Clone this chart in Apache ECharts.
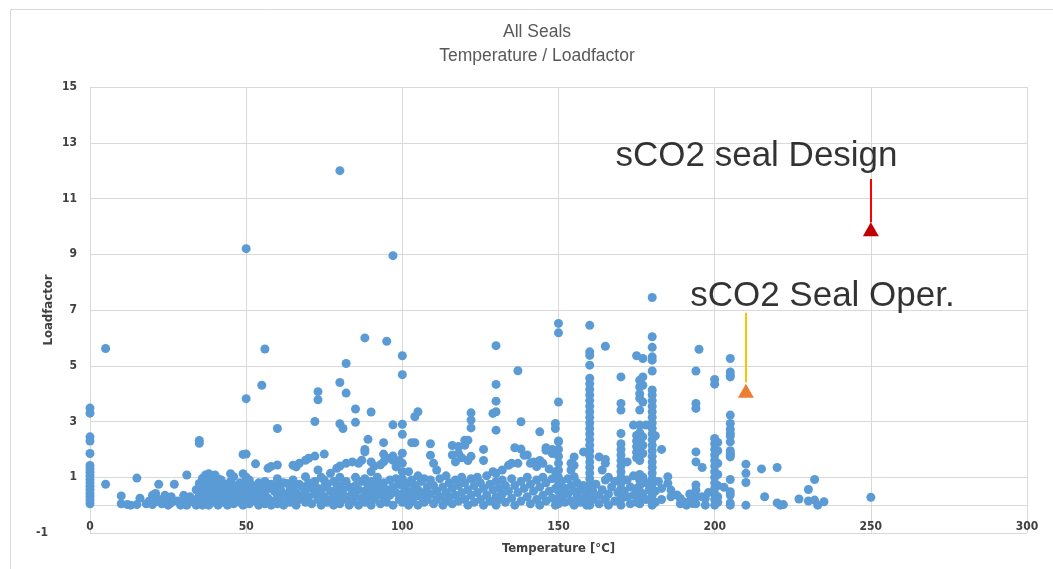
<!DOCTYPE html>
<html>
<head>
<meta charset="utf-8">
<title>All Seals - Temperature / Loadfactor</title>
<script src="https://cdn.jsdelivr.net/npm/echarts@6/dist/echarts.min.js"></script>
<style>
  html, body { margin: 0; padding: 0; background: #fff; }
  #chart { width: 1053px; height: 569px; }
</style>
</head>
<body>
<div id="chart"></div>
<script>
// seal readings, grouped by temperature: [temperature °C, [loadfactor values]]
var sealColumns = [
  [0, [3.48, 3.3, 2.45, 2.3, 1.85, 1.42, 1.3, 1.18, 1.05, 0.92, 0.8, 0.68, 0.55, 0.42, 0.3, 0.18, 0.05]],
  [5, [5.62, 0.75]],
  [10, [0.33, 0.05]], [12, [0.02]], [13, [0.0]], [15, [0.97, 0.02]], [16, [0.25]], [18, [0.05]], [19, [0.15]],
  [20, [0.35, 0.02]], [21, [0.42, 0.12]], [22, [0.75, 0.2]], [23, [0.05]], [24, [0.35, 0.15]], [25, [0.0]],
  [26, [0.3, 0.08]], [27, [0.75]], [28, [0.15]], [29, [0.0]], [30, [0.35, 0.1]], [31, [1.08, 0.25, 0.0]],
  [32, [0.3]], [33, [0.12]], [34, [0.55, 0.2, 0.0]], [35, [2.32, 2.22, 0.78, 0.4, 0.1]], [36, [0.96, 0.6, 0.25, 0.0]],
  [37, [1.08, 0.8, 0.45, 0.15]], [38, [1.13, 0.9, 0.6, 0.3, 0.0]], [39, [1.05, 0.7, 0.4, 0.1]], [40, [1.08, 0.75, 0.5, 0.2]],
  [41, [0.95, 0.6, 0.3, 0.0]], [42, [0.9, 0.65, 0.35, 0.1]], [43, [0.5, 0.2]], [44, [0.75, 0.45, 0.0]],
  [45, [1.13, 0.85, 0.55, 0.25]], [46, [1.02, 0.7, 0.35, 0.05]], [47, [0.5, 0.2]], [48, [0.8, 0.55, 0.1]],
  [49, [1.82, 1.13, 0.7, 0.35, 0.0]], [50, [9.2, 3.82, 1.83, 1.0, 0.8, 0.58, 0.35, 0.15]], [51, [0.9, 0.5, 0.05]],
  [52, [0.7, 0.3]], [53, [1.48, 0.55, 0.15]], [54, [0.8, 0.35, 0.0]], [55, [4.3, 0.65, 0.2]], [56, [5.6, 0.85, 0.45, 0.05]],
  [57, [1.32, 0.6, 0.25]], [58, [1.39, 0.75, 0.0]], [59, [0.5, 0.15]], [60, [2.75, 1.44, 0.95, 0.7, 0.35, 0.05]],
  [61, [0.55, 0.2]], [62, [0.8, 0.4, 0.0]], [63, [0.78, 0.3]], [64, [0.55, 0.1]], [65, [1.43, 0.9, 0.65, 0.3]],
  [66, [1.37, 0.45, 0.0]], [67, [1.5, 0.75, 0.2]], [68, [0.66, 0.35]], [69, [1.61, 1.02, 0.55, 0.1]], [70, [1.68, 0.8, 0.3]],
  [71, [0.6, 0.05]], [72, [3.0, 1.76, 0.85, 0.4]], [73, [4.07, 3.78, 1.26, 0.6, 0.2]], [74, [1.0, 0.45, 0.0]],
  [75, [1.83, 0.9, 0.65, 0.3]], [76, [0.75, 0.1]], [77, [1.14, 0.5, 0.2]], [78, [0.85, 0.35, 0.0]], [79, [1.32, 0.6, 0.15]],
  [80, [12.0, 4.4, 2.92, 1.4, 1.0, 0.7, 0.4, 0.05]], [81, [2.75, 0.55, 0.2]], [82, [5.08, 4.02, 1.5, 0.85, 0.3]],
  [83, [0.65, 0.0]], [84, [1.55, 0.45, 0.15]], [85, [3.45, 2.97, 1.0, 0.7, 0.3]], [86, [1.5, 0.55, 0.0]],
  [87, [1.61, 0.85, 0.25]], [88, [6.0, 2.0, 1.91, 0.95, 0.5, 0.1]], [89, [2.36, 0.7, 0.3]],
  [90, [3.34, 1.55, 1.2, 0.85, 0.45, 0.0]], [91, [1.4, 0.6, 0.2]], [92, [1.0, 0.75, 0.35]], [93, [1.45, 0.55, 0.05]],
  [94, [2.24, 1.83, 1.55, 0.8, 0.3]], [95, [5.88, 0.55, 0.1]], [96, [1.68, 0.9, 0.35]], [97, [8.95, 2.88, 1.76, 1.61, 0.65, 0.0]],
  [98, [1.37, 0.95, 0.45]], [99, [1.6, 0.75, 0.2]], [100, [5.36, 4.68, 2.9, 2.54, 1.86, 1.5, 1.2, 0.95, 0.7, 0.4, 0.1]],
  [101, [0.55, 0.2]], [102, [1.2, 0.8, 0.35, 0.0]], [103, [2.24, 0.9, 0.5, 0.15]], [104, [3.17, 2.24, 0.7, 0.3]],
  [105, [3.35, 1.05, 0.55, 0.0]], [106, [0.85, 0.3]], [107, [0.95, 0.45, 0.1]], [108, [0.65, 0.2]],
  [109, [2.2, 1.79, 0.9, 0.4]], [110, [1.5, 0.7, 0.05]], [111, [1.26, 0.5, 0.2]], [112, [0.95, 0.3]], [113, [0.65, 0.0]],
  [114, [1.05, 0.45, 0.15]], [115, [0.8, 0.3]], [116, [2.14, 1.8, 0.6, 0.05]], [117, [1.55, 0.9, 0.35]],
  [118, [2.1, 1.85, 0.7, 0.15]], [119, [1.7, 1.0, 0.45]], [120, [2.33, 2.15, 0.8, 0.2]], [121, [2.33, 1.6, 0.55, 0.0]],
  [122, [3.31, 3.05, 2.77, 1.75, 0.95, 0.35]], [123, [0.7, 0.1]], [124, [1.0, 0.45]], [125, [0.8, 0.2]],
  [126, [2.0, 1.6, 0.6, 0.0]], [127, [1.05, 0.35]], [128, [0.75, 0.15]], [129, [3.29, 1.2, 0.55]],
  [130, [5.72, 4.33, 3.73, 3.35, 2.69, 1.14, 0.85, 0.3, 0.0]], [131, [0.6, 0.2]], [132, [1.26, 0.9, 0.4]], [133, [0.7, 0.1]],
  [134, [1.43, 0.5]], [135, [1.5, 0.95, 0.25]], [136, [2.06, 0.7, 0.0]], [137, [4.82, 1.5, 0.45]], [138, [2.99, 2.01, 0.85, 0.15]],
  [139, [1.79, 0.6]], [140, [1.8, 1.0, 0.3]], [141, [1.5, 0.75, 0.05]], [142, [1.55, 0.5]], [143, [1.38, 0.9, 0.2]],
  [144, [2.63, 1.6, 0.65, 0.0]], [145, [1.5, 1.0, 0.35]], [146, [2.06, 1.97, 0.8, 0.15]], [147, [1.3, 0.5]],
  [148, [2.0, 1.85, 0.95, 0.25]], [149, [2.93, 2.75, 1.2, 0.6, 0.0]],
  [150, [6.52, 6.18, 3.7, 2.3, 2.27, 2.0, 1.75, 1.5, 1.25, 1.0, 0.75, 0.5, 0.25, 0.05]],
  [151, [0.85, 0.35]], [152, [0.6, 0.1]], [153, [0.95, 0.4]], [154, [1.5, 1.26, 0.7, 0.15]], [155, [1.73, 1.43, 1.02, 0.5, 0.0]],
  [156, [0.8, 0.3]], [157, [0.55, 0.1]], [158, [1.91, 0.7, 0.25]], [159, [0.4, 0.0]],
  [160, [6.45, 5.5, 5.37, 5.02, 4.55, 4.35, 4.15, 3.95, 3.75, 3.55, 3.35, 3.15, 2.95, 2.75, 2.55, 2.35, 2.15, 1.95, 1.75, 1.55, 1.35, 1.15, 0.95, 0.75, 0.55, 0.35, 0.15, 0.0]],
  [161, [0.5, 0.2]], [162, [0.75]], [163, [1.73, 0.35, 0.05]], [164, [1.26, 0.55]], [165, [5.7, 1.64, 1.5, 0.9, 0.2]],
  [166, [1.0, 0.4, 0.0]], [167, [0.65]], [168, [0.85, 0.15]], [169, [0.45]],
  [170, [4.6, 3.65, 3.41, 2.57, 2.2, 2.0, 1.8, 1.6, 1.4, 1.2, 1.0, 0.8, 0.6, 0.4, 0.2, 0.0]],
  [171, [0.5]], [172, [1.55, 0.9, 0.3]], [173, [0.65, 0.05]], [174, [2.87, 1.05, 0.35]], [175, [5.36, 2.5, 2.3, 2.1, 1.9, 1.7, 0.6, 0.1]],
  [176, [4.48, 4.24, 4.0, 3.83, 3.41, 2.87, 2.6, 2.4, 2.2, 2.0, 1.8, 1.6, 1.1, 0.9, 0.7, 0.5, 0.3, 0.05]],
  [177, [5.26, 4.6, 4.3, 3.7, 2.45, 2.15, 1.85, 1.0, 0.4]], [178, [2.87, 0.8, 0.2]], [179, [0.55]],
  [180, [7.45, 6.04, 5.66, 5.32, 5.2, 4.81, 4.13, 3.95, 3.75, 3.55, 3.35, 3.15, 2.95, 2.75, 2.55, 2.35, 2.15, 1.95, 1.75, 1.55, 1.35, 1.15, 0.95, 0.75, 0.55, 0.35, 0.15, 0.0]],
  [181, [2.49, 0.5, 0.1]], [182, [0.85]], [183, [2.0, 0.6, 0.2]], [185, [1.02, 0.78]], [186, [0.54, 0.3]],
  [188, [0.36]], [189, [0.24, 0.05]], [190, [0.12]], [191, [0.0]], [192, [0.4, 0.12]], [193, [0.06]],
  [194, [4.81, 3.65, 3.47, 1.91, 1.55, 0.72, 0.54, 0.3, 0.05]], [195, [5.59]], [196, [1.35, 0.3]], [197, [0.24, 0.0]], [198, [0.45]],
  [200, [4.51, 4.34, 2.39, 2.2, 2.0, 1.8, 1.6, 1.4, 1.2, 1.0, 0.8, 0.6, 0.4, 0.2, 0.0]],
  [201, [2.25, 1.95, 1.5, 1.1, 0.7, 0.3, 0.1]], [203, [0.64]],
  [205, [5.26, 4.78, 4.66, 4.6, 3.23, 2.93, 2.72, 2.57, 2.48, 2.27, 1.95, 1.85, 1.79, 1.73, 0.92, 0.48, 0.36, 0.08, 0.0]],
  [210, [1.47, 1.14, 0.81, 0.0]], [215, [1.3]], [216, [0.3]], [220, [1.35, 0.08]], [221, [0.0]], [222, [0.02]],
  [227, [0.22]], [230, [0.56, 0.15]], [232, [0.92, 0.18]], [233, [0.0]], [235, [0.12]], [250, [0.28]]
];

// sCO2 seal markers and their call-outs
var designPoint = [250, 9.9];
var operPoint = [210, 4.1];
var designLine = [11.7, 10.15];   // loadfactor from / to at designPoint temperature
var operLine = [6.9, 4.4];
var noteLabels = ['sCO2 seal Design', 'sCO2 Seal Oper.'];
var notePos = [[213.4, 12.5], [234.5, 7.5]];

// axes
var xMin = 0, xMax = 300, xStep = 50;
var yMin = -1, yMax = 15, yStep = 2;

var sealData = [];
sealColumns.forEach(function(col) {
  col[1].forEach(function(v) { sealData.push([col[0], v]); });
});

var labelFont = "'Liberation Sans Narrow', 'DejaVu Sans Condensed', 'Liberation Sans', sans-serif";
var axisInk = '#404040';
var gridInk = '#d9d9d9';
var gridTop = 87, gridBottom = 36, chartH = 569;
// horizontal axis crosses the vertical one at loadfactor 0 (one unit above the bottom edge)
var zeroOffset = -(chartH - gridTop - gridBottom) / (yMax - yMin) * (0 - yMin);

var chart = echarts.init(document.getElementById('chart'), null, { renderer: 'canvas' });
chart.setOption({
  animation: false,
  backgroundColor: '#ffffff',
  title: {
    text: 'All Seals\nTemperature / Loadfactor',
    left: 537, top: 20, textAlign: 'center', padding: 0,
    textStyle: { fontFamily: "'Liberation Sans', Arial, sans-serif", fontSize: 17.5, fontWeight: 'normal', color: '#595959', lineHeight: 24 }
  },
  // thin chart-area frame, as in the spreadsheet export
  graphic: [{
    type: 'rect', left: 8, top: 7, silent: true,
    shape: { width: 1060, height: 580 },
    style: { fill: null, stroke: gridInk, lineWidth: 1 }
  }],
  grid: { left: 90, right: 26, top: gridTop, bottom: gridBottom, containLabel: false, outerBoundsMode: 'none' },
  xAxis: {
    type: 'value', min: xMin, max: xMax, interval: xStep, offset: zeroOffset,
    name: 'Temperature [°C]', nameLocation: 'middle', nameGap: 37, nameMoveOverlap: false,
    nameTextStyle: { fontFamily: labelFont, fontSize: 13, fontWeight: 'bold', color: axisInk },
    axisLine: { show: true, onZero: false, lineStyle: { color: gridInk, width: 1 } },
    axisTick: { show: false },
    axisLabel: { fontFamily: labelFont, fontSize: 12, fontWeight: 'bold', color: axisInk, margin: 16 },
    splitLine: { show: true, lineStyle: { color: gridInk, width: 1 } }
  },
  yAxis: {
    type: 'value', min: yMin, max: yMax, interval: yStep,
    name: 'Loadfactor', nameLocation: 'middle', nameGap: 35, nameRotate: 90, nameMoveOverlap: false,
    nameTextStyle: { fontFamily: labelFont, fontSize: 13, fontWeight: 'bold', color: axisInk },
    axisLine: { show: true, onZero: false, lineStyle: { color: gridInk, width: 1 } },
    axisTick: { show: false },
    axisLabel: {
      fontFamily: labelFont, fontSize: 12, fontWeight: 'bold', color: axisInk, margin: 13,
      formatter: function(v) { return v === yMin ? '{neg|' + v + '}' : String(v); },
      rich: { neg: { fontFamily: labelFont, fontSize: 12, fontWeight: 'bold', color: axisInk, padding: [0, 29, 0, 0] } }
    },
    splitLine: { show: true, lineStyle: { color: gridInk, width: 1 } }
  },
  series: [
    {
      name: 'All Seals', type: 'scatter', data: sealData,
      symbol: 'circle', symbolSize: 9, large: false,
      itemStyle: { color: '#5b9bd5', opacity: 1 },
      emphasis: { disabled: true }, silent: true
    },
    {
      name: 'sCO2 seal Design', type: 'scatter', data: [designPoint],
      symbol: 'triangle', symbolSize: [16, 14], z: 5,
      itemStyle: { color: '#c00000', opacity: 1 }, silent: true,
      markLine: {
        silent: true, symbol: 'none', animation: false, label: { show: false },
        lineStyle: { color: '#ff0000', width: 2, type: 'solid', opacity: 1 },
        data: [[{ coord: [designPoint[0], designLine[0]] }, { coord: [designPoint[0], designLine[1]] }]]
      }
    },
    {
      name: 'sCO2 Seal Oper.', type: 'scatter', data: [operPoint],
      symbol: 'triangle', symbolSize: [16, 14], z: 5,
      itemStyle: { color: '#ed7d31', opacity: 1 }, silent: true,
      markLine: {
        silent: true, symbol: 'none', animation: false, label: { show: false },
        lineStyle: { color: '#ffc000', width: 2, type: 'solid', opacity: 1 },
        data: [[{ coord: [operPoint[0], operLine[0]] }, { coord: [operPoint[0], operLine[1]] }]]
      }
    },
    {
      name: 'notes', type: 'scatter', symbolSize: 0, silent: true, z: 6,
      data: notePos.map(function(p, i) { return [p[0], p[1], noteLabels[i]]; }),
      label: {
        show: true, position: 'inside', color: '#000000',
        fontFamily: "'Liberation Sans', Arial, sans-serif", fontSize: 35,
        formatter: function(p) { return p.value[2]; }
      }
    }
  ]
});
window.addEventListener('resize', function() { chart.resize(); });
</script>
</body>
</html>
